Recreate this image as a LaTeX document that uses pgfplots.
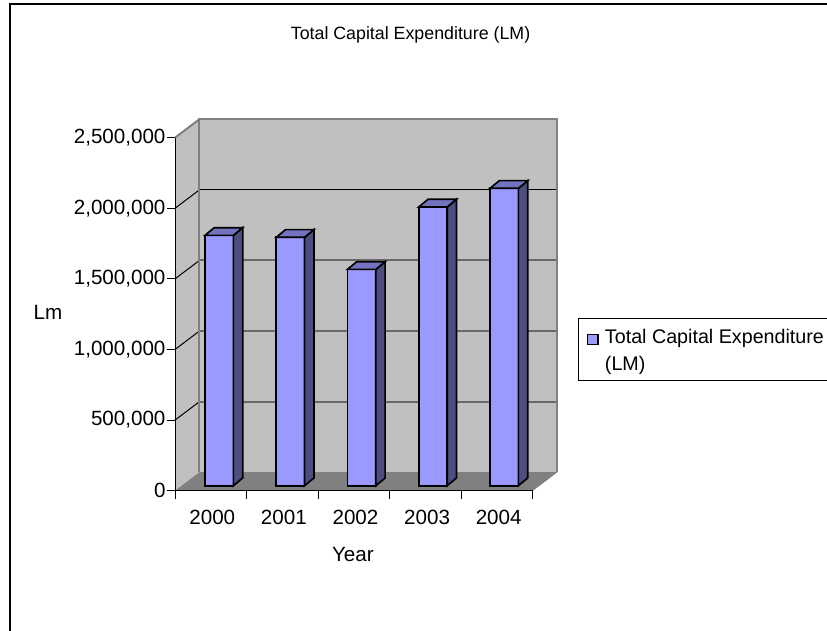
\documentclass[border=0pt]{standalone}
\usepackage{pgfplots}
\pgfplotsset{compat=1.18}
\usepackage{fontspec}
\setmainfont{Liberation Sans}
\definecolor{wallgray}{RGB}{192,192,192}
\definecolor{floorgray}{RGB}{128,128,128}
\definecolor{barfront}{RGB}{153,153,255}
\definecolor{barside}{RGB}{77,77,128}
\definecolor{bartop}{RGB}{115,115,191}
\definecolor{gridgray}{RGB}{105,105,105}
\newcommand\chartfont{\fontsize{20.6pt}{24pt}\selectfont}
\newcommand\titlefont{\fontsize{17.8pt}{22pt}\selectfont}
\newcommand\legendfont{\fontsize{19.7pt}{24pt}\selectfont}
\pgfplotsset{
  barface/.style={draw=black,line width=1.7pt,line join=miter,forget plot},
  sideface/.style={barface,fill=barside},
  topface/.style={barface,fill=bartop},
  wallline/.style={draw=#1,line width=2pt,forget plot},
  blackline/.style={draw=black,line width=1pt,forget plot},
}
\begin{document}
\begin{tikzpicture}[x=1pt,y=1pt]
\useasboundingbox (0,0) rectangle (827,630);
\fill[white] (0,0) rectangle (827,630);
% chart area border, open towards the right and the bottom
\draw[black,line width=2pt] (10.3,-2) -- (10.3,625.7) -- (830,625.7);
\begin{axis}[
  at={(175pt,139.3pt)},anchor=south west,
  scale only axis,width=358pt,height=353pt,
  xmin=-0.5,xmax=4.5,ymin=0,ymax=2500000,
  clip=false,axis on top,
  axis x line*=bottom,axis y line*=left,
  axis line style={black,line width=1pt,-},
  tick align=outside,
  major tick length=8pt,minor tick length=8pt,
  tick style={black,line width=1pt},
  xtick={0,1,2,3,4},
  xticklabels={2000,2001,2002,2003,2004},
  minor xtick={-0.5,0.5,1.5,2.5,3.5,4.5},
  every major x tick/.style={draw=none},
  every minor x tick/.style={draw=black,line width=1pt},
  ytick={0,500000,1000000,1500000,2000000,2500000},
  scaled y ticks=false,
  tick label style={font=\chartfont},
  y tick label style={xshift=2pt,/pgf/number format/.cd,fixed,1000 sep={,},assume math mode=true},
  x tick label style={yshift=-8pt,xshift=1.5pt},
  title={Total Capital Expenditure (LM)},
  title style={at={(axis description cs:0.658,1.274)},anchor=center,font=\titlefont},
  xlabel={Year},
  xlabel style={at={(axis description cs:0.497,-0.181)},anchor=center,font=\chartfont},
  ylabel={Lm},
  ylabel style={at={(axis description cs:-0.355,0.506)},anchor=center,rotate=-90,font=\chartfont},
  legend style={at={(axis description cs:1.127,0.488)},anchor=north west,draw=black,
    line width=1pt,fill=white,inner xsep=8pt,inner ysep=8pt,font=\legendfont,
    nodes={inner sep=2pt,text depth=27.5pt},cells={anchor=west}},
  legend image code/.code={
    \draw[black,line width=1.3pt,fill=barfront] (0pt,0pt) rectangle (10.5pt,10.5pt);
    \path (14.5pt,0pt);
  },
]
% left side wall, back wall and floor
\addplot[fill=wallgray,draw=none,forget plot] coordinates
  {(-0.5,0) (-0.158,131000) (-0.158,2631000) (-0.5,2500000)} -- cycle;
\addplot[fill=wallgray,draw=none,forget plot] coordinates
  {(-0.158,131000) (4.842,131000) (4.842,2631000) (-0.158,2631000)} -- cycle;
\addplot[fill=floorgray,draw=none,forget plot] coordinates
  {(-0.5,0) (4.5,0) (4.842,131000) (-0.158,131000)} -- cycle;

% gridlines on the side wall
\addplot[blackline] coordinates {(-0.5,500000) (-0.158,631000)};
\addplot[blackline] coordinates {(-0.5,1000000) (-0.158,1131000)};
\addplot[blackline] coordinates {(-0.5,1500000) (-0.158,1631000)};
\addplot[blackline] coordinates {(-0.5,2000000) (-0.158,2131000)};
\addplot[wallline=floorgray] coordinates {(-0.5,2500000) (-0.158,2631000)};
% gridlines on the back wall
\addplot[wallline=gridgray] coordinates {(-0.158,631000) (4.842,631000)};
\addplot[wallline=gridgray] coordinates {(-0.158,1131000) (4.842,1131000)};
\addplot[wallline=gridgray] coordinates {(-0.158,1631000) (4.842,1631000)};
\addplot[blackline] coordinates {(-0.158,2131000) (4.842,2131000)};
% wall outline
\addplot[draw=floorgray,line width=2pt,forget plot] coordinates
  {(-0.158,131000) (-0.158,2631000) (4.842,2631000) (4.842,131000)};

% bar front faces; the bars stand a little inside the floor
\addplot[ybar,bar width=28.4pt,bar shift=0pt,yshift=5pt,
         fill=barfront,draw=black,line width=1.7pt] coordinates
  {(0.117,1773000) (1.112,1759000) (2.107,1532000) (3.103,1974000) (4.098,2106000)};
\addlegendentry{\parbox[t]{260pt}{\baselineskip=27.5pt Total Capital Expenditure\\(LM)}}

% side and top faces of each bar
\addplot[sideface] coordinates {(0.315,35400) (0.445,89900) (0.445,1862900) (0.315,1808400)} -- cycle;
\addplot[topface]  coordinates {(-0.081,1808400) (0.315,1808400) (0.445,1862900) (0.049,1862900)} -- cycle;
\addplot[sideface] coordinates {(1.310,35400) (1.440,89900) (1.440,1848900) (1.310,1794400)} -- cycle;
\addplot[topface]  coordinates {(0.914,1794400) (1.310,1794400) (1.440,1848900) (1.044,1848900)} -- cycle;
\addplot[sideface] coordinates {(2.305,35400) (2.435,89900) (2.435,1621900) (2.305,1567400)} -- cycle;
\addplot[topface]  coordinates {(1.909,1567400) (2.305,1567400) (2.435,1621900) (2.039,1621900)} -- cycle;
\addplot[sideface] coordinates {(3.301,35400) (3.431,89900) (3.431,2063900) (3.301,2009400)} -- cycle;
\addplot[topface]  coordinates {(2.905,2009400) (3.301,2009400) (3.431,2063900) (3.035,2063900)} -- cycle;
\addplot[sideface] coordinates {(4.296,35400) (4.426,89900) (4.426,2195900) (4.296,2141400)} -- cycle;
\addplot[topface]  coordinates {(3.900,2141400) (4.296,2141400) (4.426,2195900) (4.030,2195900)} -- cycle;
\end{axis}
\end{tikzpicture}
\end{document}
